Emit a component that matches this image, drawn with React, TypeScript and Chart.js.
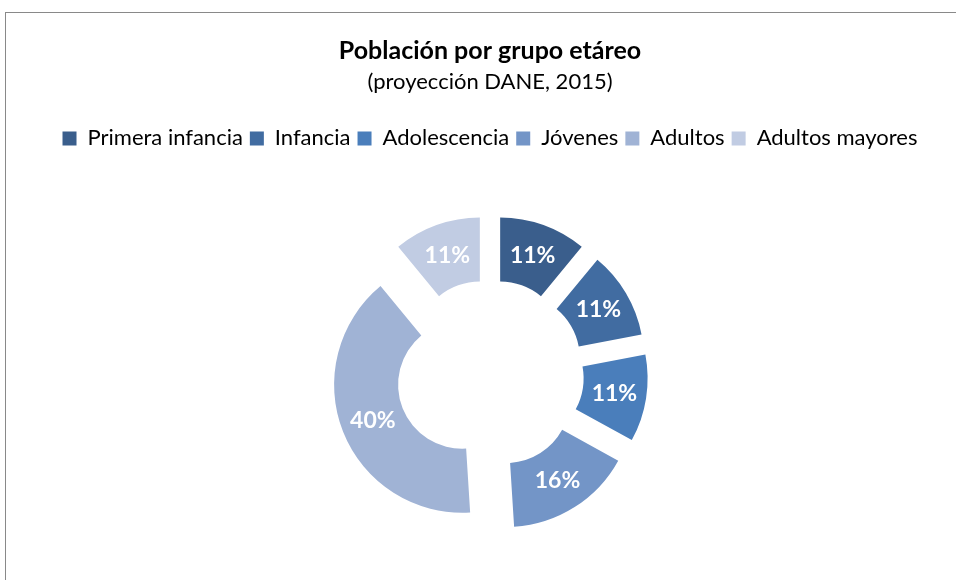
import React, { useEffect, useRef } from "react";
import { Chart, registerables } from "chart.js";

Chart.register(...registerables);

const TITLE = "Población por grupo etáreo";
const SUBTITLE = "(proyección DANE, 2015)";
const categories = ["Primera infancia", "Infancia", "Adolescencia", "Jóvenes", "Adultos", "Adultos mayores"];
const values = [11, 11, 11, 16, 40, 11];
const colors = ["#3A5E8C", "#416CA1", "#4A7EBB", "#7395C7", "#A0B3D5", "#C1CCE3"];

const FONT = "Lato, 'Open Sans', sans-serif";
const EXPLODE = 30;

const explodePlugin = {
  id: "explode",
  afterDatasetsUpdate(chart: any) {
    const meta = chart.getDatasetMeta(0);
    meta.data.forEach((arc: any) => {
      const mid = (arc.startAngle + arc.endAngle) / 2;
      arc.x += Math.cos(mid) * EXPLODE;
      arc.y += Math.sin(mid) * EXPLODE;
    });
  },
};

const labelPlugin = {
  id: "sliceLabels",
  afterDatasetsDraw(chart: any) {
    const ctx = chart.ctx;
    const meta = chart.getDatasetMeta(0);
    const data = chart.data.datasets[0].data as number[];
    const total = data.reduce((a, b) => a + b, 0);
    ctx.save();
    ctx.fillStyle = "#ffffff";
    ctx.font = `bold 23px ${FONT}`;
    ctx.textAlign = "center";
    ctx.textBaseline = "middle";
    meta.data.forEach((arc: any, i: number) => {
      const mid = (arc.startAngle + arc.endAngle) / 2;
      const r = (arc.innerRadius + arc.outerRadius) / 2;
      const x = arc.x + Math.cos(mid) * r;
      const y = arc.y + Math.sin(mid) * r;
      ctx.fillText(`${Math.round((data[i] / total) * 100)}%`, x, y);
    });
    ctx.restore();
  },
};

export default function App() {
  const ref = useRef<HTMLCanvasElement>(null);
  useEffect(() => {
    if (!ref.current) return;
    const chart = new Chart(ref.current, {
      type: "doughnut",
      data: {
        labels: categories,
        datasets: [
          {
            data: values,
            backgroundColor: colors,
            borderWidth: 0,
          },
        ],
      },
      options: {
        responsive: false,
        animation: false,
        radius: 128,
        cutout: "50%",
        layout: { padding: { top: 10, bottom: 0, left: 0, right: 0 } },
        plugins: {
          title: {
            display: true,
            text: TITLE,
            color: "#000",
            font: { family: FONT, size: 25, weight: "bold" },
            padding: { top: 26, bottom: 0 },
          },
          subtitle: {
            display: true,
            text: SUBTITLE,
            color: "#000",
            font: { family: FONT, size: 22 },
            padding: { top: 3, bottom: 25 },
          },
          legend: {
            position: "top",
            labels: {
              color: "#000",
              font: { family: FONT, size: 22 },
              boxWidth: 14,
              boxHeight: 14,
              padding: 7,
            },
          },
          tooltip: { enabled: false },
        },
      },
      plugins: [explodePlugin, labelPlugin],
    });
    return () => chart.destroy();
  }, []);

  return (
    <div style={{ position: "fixed", left: 0, top: 0, width: 956, height: 580, overflow: "hidden", background: "#fff" }}>
      <div
        style={{
          position: "absolute",
          left: 5,
          top: 12,
          width: 1100,
          height: 800,
          border: "1px solid #898989",
          boxSizing: "border-box",
        }}
      />
      <canvas
        ref={ref}
        width={980}
        height={588}
        style={{ position: "absolute", left: 0, top: 0, width: 980, height: 588 }}
      />
    </div>
  );
}
